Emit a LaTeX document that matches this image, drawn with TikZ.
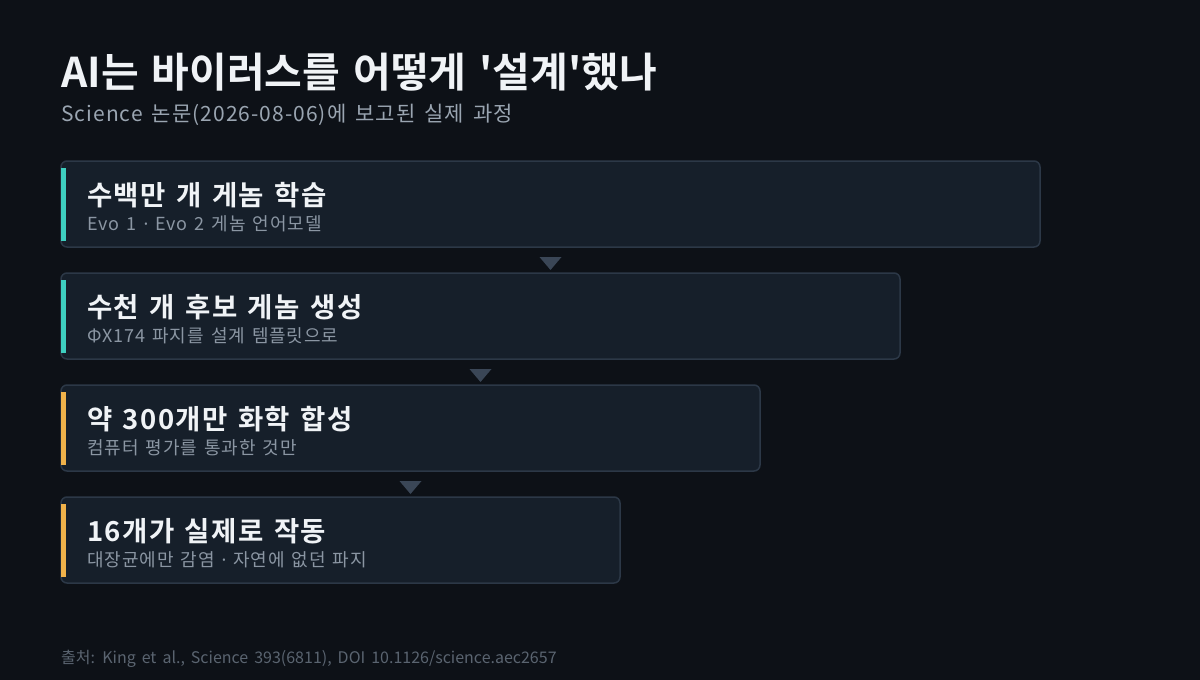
\documentclass[tikz,border=0pt]{standalone}
\usepackage{fontspec}
\usetikzlibrary{calc}
\newfontfamily\kr{Noto Sans CJK KR}
\newfontfamily\krb{Noto Sans CJK KR Bold}
\newfontfamily\krbls{Noto Sans CJK KR Bold}[LetterSpace=5]
\newfontfamily\krls{Noto Sans CJK KR}[LetterSpace=5]
\newfontfamily\krsub{Noto Sans CJK KR}[LetterSpace=5]
\newfontfamily\ns{Noto Sans}
\definecolor{bg}{HTML}{0D1117}
\definecolor{boxfill}{HTML}{161F2A}
\definecolor{boxline}{HTML}{2C3847}
\definecolor{teal}{HTML}{3ECFC0}
\definecolor{amber}{HTML}{F0B24A}
\definecolor{titlec}{HTML}{F0F3F6}
\definecolor{subc}{HTML}{9AA5B1}
\definecolor{smallc}{HTML}{8B96A3}
\definecolor{footc}{HTML}{5A6470}
\definecolor{tric}{HTML}{3A4656}
\newcommand{\wsp}[1]{\spaceskip=#1\relax}
\newcommand{\mdot}{{\ns ·}}
\begin{document}
\begin{tikzpicture}[x=1pt,y=-1pt,
  stepbox/.style={draw=boxline,line width=1.5pt,fill=boxfill,rounded corners=6pt},
  accent/.style={fill=#1,draw=none},
  btitle/.style={anchor=base west,inner sep=0pt,text=titlec,font=\krbls\fontsize{27.5}{30}\selectfont\wsp{10.5pt}},
  bsub/.style={anchor=base west,inner sep=0pt,text=smallc,font=\krls\fontsize{18}{20}\selectfont\wsp{7pt}},
  tri/.style={fill=tric,draw=none}]
\fill[bg] (0,0) rectangle (1200,680);
\useasboundingbox (0,0) rectangle (1200,680);
\node[anchor=base west,inner sep=0pt,text=titlec,font=\krb\fontsize{41}{44}\selectfont\wsp{13pt}] (title) at (61,87) {AI는 바이러스를 어떻게 '설계'했나};
\node[anchor=base west,inner sep=0pt,text=subc,font=\krsub\fontsize{21}{24}\selectfont\wsp{9pt}] (subtitle) at (61,121) {Science 논문(2026-08-06)에 보고된 실제 과정};
% boxes
\path[stepbox] (61,161) rectangle (1040,247);
\coordinate (b1) at (550.5,247);
\fill[accent=teal] (61,168) rectangle (66,241);
\node[btitle] (t1) at (87,205) {수백만 개 게놈 학습};
\node[bsub] (s1) at (87,230) {Evo 1 \mdot{} Evo 2 게놈 언어모델};

\path[stepbox] (61,273) rectangle (900,359);
\coordinate (b2) at (480.5,359);
\fill[accent=teal] (61,280) rectangle (66,353);
\node[btitle] (t2) at (87,317) {수천 개 후보 게놈 생성};
\node[bsub] (s2) at (87,342) {ΦX174 파지를 설계 템플릿으로};

\path[stepbox] (61,385) rectangle (760,471);
\coordinate (b3) at (410.5,471);
\fill[accent=amber] (61,392) rectangle (66,465);
\node[btitle] (t3) at (87,429) {약 300개만 화학 합성};
\node[bsub] (s3) at (87,454) {컴퓨터 평가를 통과한 것만};

\path[stepbox] (61,497) rectangle (620,583);
\fill[accent=amber] (61,504) rectangle (66,577);
\node[btitle] (t4) at (87,541) {16개가 실제로 작동};
\node[bsub] (s4) at (87,566) {대장균에만 감염 \mdot{} 자연에 없던 파지};

% triangles
\foreach \b in {b1,b2,b3}{
  \fill[tri] ($(\b)+(-11,10)$) -- ($(\b)+(11,10)$) -- ($(\b)+(0,23)$) -- cycle;
}

\node[anchor=base west,inner sep=0pt,text=footc,font=\kr\fontsize{16}{18}\selectfont\wsp{6pt}] (foot) at (61,663) {출처: King et al., Science 393(6811), DOI 10.1126/science.aec2657};
\end{tikzpicture}
\end{document}
